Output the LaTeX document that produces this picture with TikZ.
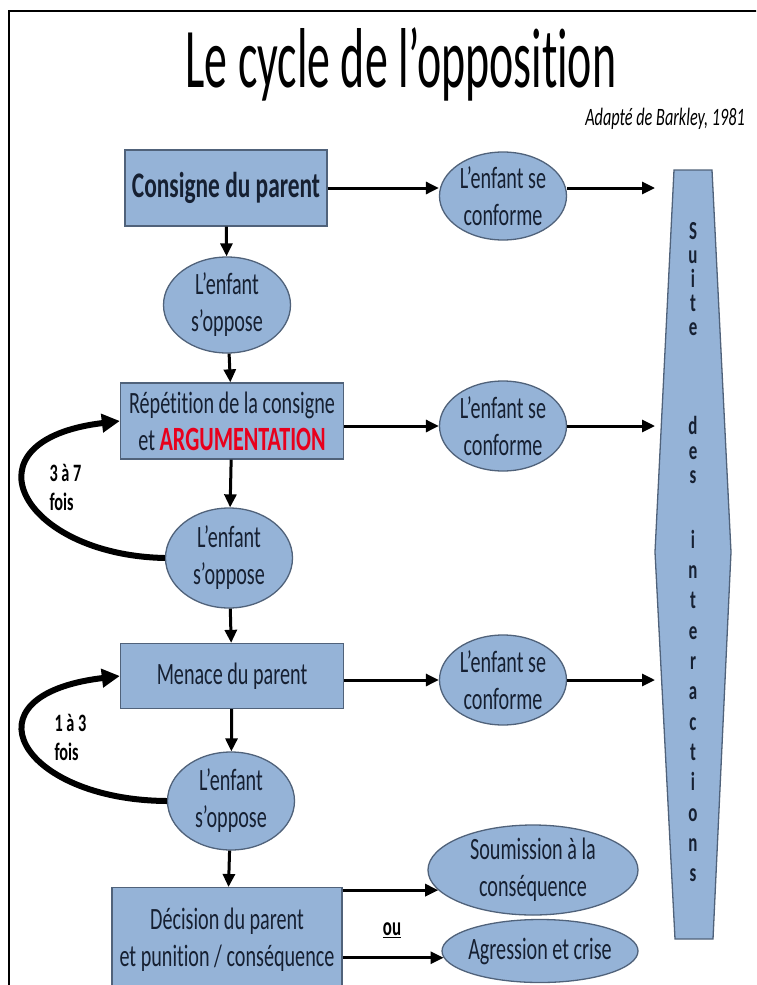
\documentclass[tikz,border=0pt]{standalone}
\usepackage{fontspec}
\setmainfont{Carlito}[FakeStretch=0.65,Ligatures=CommonOff]
\newfontfamily\titlefont{Carlito}[FakeStretch=0.54,Ligatures=CommonOff]
\usepackage{xcolor}
\usetikzlibrary{shapes.geometric,arrows.meta}
\definecolor{boxblue}{RGB}{149,179,215}
\definecolor{boxline}{RGB}{80,98,122}
\definecolor{inktext}{RGB}{22,32,50}
\definecolor{argred}{RGB}{232,0,28}

\begin{document}
\begin{tikzpicture}[x=1pt,y=-1pt,
  every node/.style={text=inktext,font=\fontsize{31}{37}\selectfont},
  etape/.style={draw=boxline,fill=boxblue,line width=1.3pt,minimum height=76pt,align=center,inner sep=0pt},
  bulle/.style={ellipse,draw=boxline,fill=boxblue,line width=1.3pt,minimum width=127pt,minimum height=96pt,align=center,inner sep=0pt},
  colonne/.style={align=center,inner sep=0pt},
  fleche/.style={line width=3pt,-{Triangle[length=13pt,width=12pt]}},
  boucle/.style={line width=6pt,-{Triangle[length=18pt,width=18pt]}},
  fois/.style={align=left,anchor=west,text=black,font=\bfseries\fontsize{25}{29}\selectfont}]
\useasboundingbox (0,0) rectangle (756,985);
\clip (0,0) rectangle (756,985);
\draw[line width=2pt] (9,990) -- (9,11) -- (760,11);

\node[text=black] (titre) at (401,64) {\titlefont\fontsize{85}{90}\selectfont Le cycle de l’opposition};
\node[text=black] (source) at (665,119) {\itshape\fontsize{25}{30}\selectfont Adapté de Barkley, 1981};

\node[etape,minimum width=202pt] (consigne) at (226,188) {\bfseries\fontsize{36}{40}\selectfont Consigne du parent};
\node[bulle] (oppose1) at (227,305) {L’enfant\\s’oppose};
\node[etape,minimum width=223pt] (repetition) at (232,421) {Répétition de la consigne\\et \textcolor{argred}{\bfseries\fontsize{34}{37}\selectfont ARGUMENTATION}};
\node[bulle,minimum height=100pt] (oppose2) at (229,558) {L’enfant\\s’oppose};
\node[etape,minimum width=223pt,minimum height=65pt] (menace) at (232,676) {Menace du parent};
\node[bulle,minimum height=98pt] (oppose3) at (231,801) {L’enfant\\s’oppose};
\node[etape,minimum width=230pt,minimum height=104pt,anchor=north] (decision) at (227,887) {Décision du parent\\et punition / conséquence};

\node[bulle,minimum height=88pt] (conforme1) at (503,196) {L’enfant se\\conforme};
\node[bulle,minimum height=90pt] (conforme2) at (503,426) {L’enfant se\\conforme};
\node[bulle,minimum height=90pt] (conforme3) at (503,680) {L’enfant se\\conforme};
\node[bulle,minimum width=210pt,minimum height=90pt] (soumission) at (533,870) {Soumission à la\\conséquence};
\node[bulle,minimum width=196pt,minimum height=63pt,inner xsep=-12pt] (agression) at (540,951) {Agression et crise};
\node[text=black,font=\bfseries\fontsize{26}{30}\selectfont] (ou) at (392,930) {\underline{ou}};

\draw[draw=boxline,fill=boxblue,line width=1.3pt] (674,170) -- (712,170) -- (731,552) -- (713,939) -- (675,939) -- (655,552) -- cycle;
\node[colonne,font=\bfseries\fontsize{26}{24}\selectfont] (suite) at (693,279) {S\\u\\i\\t\\e};
\node[colonne,font=\bfseries\fontsize{26}{24.5}\selectfont] (des) at (693,450) {d\\e\\s};
\node[colonne,font=\bfseries\fontsize{26}{30.3}\selectfont] (interactions) at (693,706) {i\\n\\t\\e\\r\\a\\c\\t\\i\\o\\n\\s};

\coordinate (vers1) at (655,188);
\coordinate (vers2) at (655,426);
\coordinate (vers3) at (655,680);

\draw[fleche] (consigne.east) -- (consigne.east -| conforme1.west);
\draw[fleche] (conforme1.east |- vers1) -- (vers1);
\draw[fleche] (repetition.east |- conforme2) -- (conforme2.west);
\draw[fleche] (conforme2.east) -- (vers2);
\draw[fleche] (menace.east |- conforme3) -- (conforme3.west);
\draw[fleche] (conforme3.east) -- (vers3);

\draw[fleche] (consigne) -- (oppose1);
\draw[fleche] (oppose1) -- (repetition);
\draw[fleche] (repetition) -- (oppose2);
\draw[fleche] (oppose2) -- (menace);
\draw[fleche] (menace) -- (oppose3);
\draw[fleche] (oppose3) -- (decision);

\draw[fleche] (soumission.192 -| decision.east) -- (soumission.192);
\draw[fleche] (agression.184 -| decision.east) -- (agression.184);

\draw[boucle] (oppose2.west) .. controls (20,555) and (-40,440) .. (repetition.west);
\draw[boucle] (oppose3.west) .. controls (20,800) and (-40,695) .. (menace.west);
\node[fois] (fois1) at (46,487) {3 à 7\\fois};
\node[fois] (fois2) at (51,737) {1 à 3\\fois};
\end{tikzpicture}
\end{document}
